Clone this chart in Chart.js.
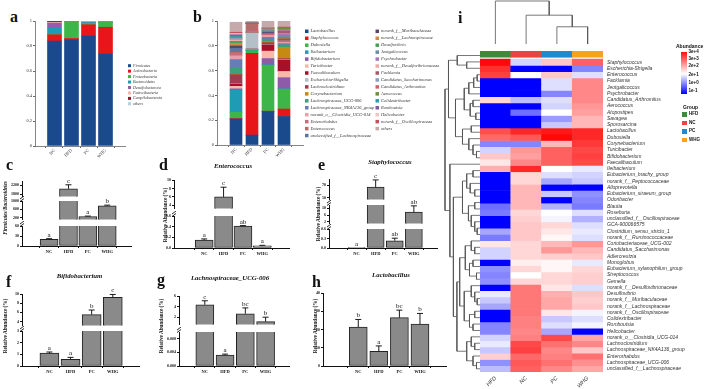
<!DOCTYPE html>
<html>
<head>
<meta charset="utf-8">
<script src="https://cdn.jsdelivr.net/npm/chart.js@4.4.0/dist/chart.umd.min.js"></script>
<style>
  html, body { margin: 0; padding: 0; background: #fff; }
  body { width: 709px; height: 389px; position: relative; overflow: hidden; }
  canvas { position: absolute; }
  .t { position: absolute; white-space: nowrap; line-height: 1; color: #111; }
</style>
</head>
<body>
<script>
const SERIF = 'Liberation Serif';
const SANS = 'Liberation Sans';

// ---------- data ----------
const groups = ['NC', 'HFD', 'PC', 'WHG'];

// a: phylum level
const phylumNames = ['Firmicutes', 'Actinobacteria', 'Proteobacteria', 'Bacteroidetes', 'Desulfobacterota', 'Patescibacteria', 'Campilobacterota', 'others'];
const phylumColors = ['#1b4a8c', '#e8161b', '#3db548', '#1b9db5', '#9a5ab0', '#f7b6ad', '#a3122b', '#b8cde0'];
const phylumNC  = [0.84, 0.05, 0.003, 0.05, 0.04, 0.006, 0.008, 0.003];
const phylumHFD = [0.85, 0.01, 0.138, 0.0, 0.0, 0.0, 0.0, 0.002];
const phylumPC  = [0.88, 0.09, 0.012, 0.005, 0.003, 0.006, 0.002, 0.002];
const phylumWHG = [0.74, 0.21, 0.04, 0.002, 0.002, 0.004, 0.0, 0.002];

// b: genus level
const genusNames = ['Lactobacillus', 'Staphylococcus', 'Dubosiella', 'Ileibacterium', 'Bifidobacterium', 'Turicibacter',
  'Faecalibaculum', 'Escherichia-Shigella', 'Lachnoclostridium', 'Corynebacterium', 'Lachnospiraceae_UCG-006',
  'Lachnospiraceae_NK4A136_group', 'norank_o__Clostridia_UCG-014', 'Enterorhabdus', 'Enterococcus',
  'unclassified_f__Lachnospiraceae', 'norank_f__Muribaculaceae', 'norank_f__Lachnospiraceae', 'Desulfovibrio',
  'Jeotgalicoccus', 'Psychrobacter', 'norank_f__Desulfovibrionaceae', 'Facklamia', 'Candidatus_Saccharimonas',
  'Candidatus_Arthromitus', 'Aerococcus', 'Colidextribacter', 'Romboutsia', 'Helicobacter',
  'norank_f__Oscillospiraceae', 'others'];
const genusColors = ['#1b4a8c', '#e8161b', '#3db548', '#1f9bb5', '#8e5ba8', '#f8b9a9', '#a8102a', '#b3c0c7',
  '#a23a52', '#c48a12', '#3f9f78', '#6a7cb8', '#e8a0a8', '#c96b7b', '#b86b6b', '#5a77a6',
  '#55486b', '#d08b42', '#4aa05a', '#6b8ea5', '#a779b8', '#eeaaa5', '#a85a6b', '#8e9cc0',
  '#d35f6d', '#6d8f3a', '#2aa0ad', '#7d5b9e', '#f2c3c3', '#c8505c', '#c4aaaa'];
const genusNC  = [0.21, 0.003, 0.05, 0.18, 0.01, 0.02, 0.02, 0.004, 0.07, 0.002, 0.05, 0.07, 0.03, 0.02, 0.01, 0.03,
  0.02, 0.02, 0.015, 0, 0, 0.015, 0, 0.01, 0.01, 0, 0.01, 0.01, 0.01, 0.01, 0.081];
const genusHFD = [0.08, 0.66, 0.02, 0.005, 0.002, 0.003, 0.004, 0.13, 0.003, 0.002, 0.002, 0.002, 0.002, 0.002, 0.06, 0.002,
  0.001, 0.001, 0.001, 0, 0, 0, 0, 0, 0.003, 0, 0, 0, 0, 0, 0.015];
const genusPC  = [0.27, 0.003, 0.37, 0.004, 0.05, 0.06, 0.05, 0.003, 0.015, 0.008, 0.02, 0.015, 0.015, 0.008, 0.004, 0.008,
  0.008, 0.004, 0.004, 0.003, 0.002, 0.003, 0.003, 0.004, 0.003, 0.002, 0.002, 0.003, 0.002, 0.002, 0.052];
const genusWHG = [0.23, 0.06, 0.16, 0.003, 0.09, 0.05, 0.09, 0.004, 0.01, 0.09, 0.02, 0.01, 0.01, 0.01, 0.005, 0.008,
  0.005, 0.005, 0.004, 0.02, 0.01, 0.003, 0.02, 0.004, 0.01, 0.01, 0.003, 0.004, 0, 0.003, 0.049];

// c - h: bars with error (NC, HFD, PC, WHG)
const fbValues = [20, 2050, 250, 770];
const fbErrors = [2, 180, 20, 30];
const fbLetters = ['a', 'c', 'a', 'b'];
const enteroValues = [0.15, 6.0, 0.41, 0.04];
const enteroErrors = [0.02, 2.3, 0.01, 0.01];
const enteroLetters = ['a', 'c', 'ab', 'a'];
const staphValues = [0.002, 67, 0.23, 7.8];
const staphErrors = [0, 11.5, 0.08, 3.7];
const staphLetters = ['a', 'c', 'ab', 'ab'];
const bifidoValues = [1.1, 0.57, 5.5, 9.3];
const bifidoErrors = [0.1, 0.17, 1.0, 0.6];
const bifidoLetters = ['a', 'a', 'b', 'c'];
const ucgValues = [4.35, 0.0032, 2.65, 1.15];
const ucgErrors = [0.75, 0.0003, 1.1, 0.85];
const ucgLetters = ['c', 'a', 'bc', 'b'];
const lactoValues = [21.3, 8.0, 26.5, 23.0];
const lactoErrors = [4.2, 3.0, 4.1, 5.8];
const lactoLetters = ['b', 'a', 'bc', 'b'];

// i: heatmap, log10 abundance per genus (HFD, NC, PC, WHG)
const heatCols = ['HFD', 'NC', 'PC', 'WHG'];
const groupColors = ['#3a8b3a', '#e8453c', '#1f8ad0', '#f6a21c'];
const heatRows = ['Staphylococcus', 'Escherichia-Shigella', 'Enterococcus', 'Facklamia', 'Jeotgalicoccus',
  'Psychrobacter', 'Candidatus_Arthromitus', 'Aerococcus', 'Atopostipes', 'Savagea', 'Sporosarcina',
  'Lactobacillus', 'Dubosiella', 'Corynebacterium', 'Turicibacter', 'Bifidobacterium', 'Faecalibaculum',
  'Ileibacterium', 'Eubacterium_brachy_group', 'norank_f__Peptococcaceae', 'Alloprevotella',
  'Eubacterium_siraeum_group', 'Odoribacter', 'Blautia', 'Roseburia', 'unclassified_f__Oscillospiraceae',
  'GCA-900066575', 'Clostridium_sensu_stricto_1', 'norank_f__Ruminococcaceae', 'Coriobacteriaceae_UCG-002',
  'Candidatus_Saccharimonas', 'Adlercreutzia', 'Monoglobus', 'Eubacterium_xylanophilum_group',
  'Streptococcus', 'Gemella', 'norank_f__Desulfovibrionaceae', 'Desulfovibrio', 'norank_f__Muribaculaceae',
  'norank_f__Lachnospiraceae', 'norank_f__Oscillospiraceae', 'Colidextribacter', 'Romboutsia',
  'Helicobacter', 'norank_o__Clostridia_UCG-014', 'Lachnoclostridium', 'Lachnospiraceae_NK4A136_group',
  'Enterorhabdus', 'Lachnospiraceae_UCG-006', 'unclassified_f__Lachnospiraceae'];
const heatHFD = [4.4, 3.9, 3.7, -1, -1, -1, 1.8, -1, -1, -1, -1, 3.5, 3.2, 0.2, 0.9, 2.0, 1.6, 2.3, -1, -1,
  -1, -1, -1, 0.0, 0.1, -1, -1, 0.5, 0.1, 1.6, 0.9, 0.9, -1, 0.3, 0.2, 0.3, -1, 1.1, 0.8, 0.5,
  -1, -1, 0.2, 0.2, 0.9, 1.1, 0.8, 1.9, 0.3, 0.7];
const heatNC = [0.9, -1, 1.3, -1, -1, -1, 0.7, -1, 0.0, -1, -1, 4.0, 3.4, 0.2, 2.6, 2.5, 2.8, 4.0, 1.8, 1.8,
  2.2, 2.2, 2.2, 2.2, 1.8, 1.9, 2.0, 2.0, 2.0, 1.8, 1.8, 1.8, 1.5, 1.8, 1.3, 1.8, 3.0, 3.0, 3.0, 3.0,
  3.0, 2.9, 2.9, 2.8, 2.9, 3.6, 3.7, 3.2, 3.4, 3.3];
const heatPC = [2.0, -1, 2.0, 1.0, 1.0, 0.2, 1.0, 0.9, 1.3, 0.4, 0.8, 4.2, 4.4, 2.2, 3.3, 3.3, 3.3, 1.3, 1.0, 0.5,
  -1, 0.8, -1, 0.6, 1.3, 1.2, 1.8, 1.6, 1.4, 2.2, 2.6, 1.9, 1.4, 1.4, 1.8, 1.8, 1.6, 2.3, 2.4, 2.4,
  1.6, 0.8, 1.0, 0.5, 3.6, 3.1, 2.8, 2.9, 3.1, 2.8];
const heatWHG = [3.3, 0.2, 1.0, 2.8, 2.8, 2.8, 2.8, 2.6, 2.5, 2.2, 2.2, 4.0, 4.0, 3.8, 3.6, 3.7, 3.6, 1.1, 0.9, 0.8,
  -1, 0.3, 0.2, 0.1, 1.0, 0.6, 1.0, 1.1, 1.0, 2.6, 2.2, 2.0, 1.1, 1.8, 1.9, 1.9, 1.0, 2.0, 1.9, 2.0,
  1.2, 1.0, 1.2, -1, 2.4, 2.8, 2.0, 3.1, 2.7, 2.4];

// clustering trees: [left, right, height], leaves are row / column indexes
const rowTree = [
  [[0, [1, 2, 0.38], 0.65],
   [[[[[3, 4, 0.08], 5, 0.18], 6, 0.32], [[7, 8, 0.2], [9, 10, 0.12], 0.28], 0.45],
    [[11, 12, 0.25], [13, [14, [15, 16, 0.1], 0.2], 0.32], 0.5], 0.7], 0.9],
  [17,
   [[[[18, 19, 0.2], [20, [21, 22, 0.15], 0.28], 0.38], [[23, 24, 0.15], [25, [26, [27, 28, 0.08], 0.15], 0.25], 0.33], 0.5],
    [[[[29, [30, 31, 0.15], 0.25], [[32, 33, 0.2], [34, 35, 0.1], 0.3], 0.42],
      [[36, [37, [38, 39, 0.08], 0.15], 0.25], [[40, 41, 0.15], [42, 43, 0.2], 0.3], 0.45], 0.58],
     [[44, [45, 46, 0.15], 0.25], [47, [48, 49, 0.1], 0.2], 0.38], 0.66], 0.76], 0.86],
  1.0];
const colTree = [0, [1, [2, 3, 0.4], 0.67], 1.0];

// ---------- helpers ----------
function addCanvas(left, top, w, h) {
  const c = document.createElement('canvas');
  c.width = w; c.height = h;
  c.style.left = left + 'px'; c.style.top = top + 'px';
  c.style.width = w + 'px'; c.style.height = h + 'px';
  document.body.appendChild(c);
  return c;
}

function txt(s, x, y, size, o = {}) {
  const d = document.createElement('div');
  d.className = 't';
  d.textContent = s;
  d.style.fontSize = size + 'px';
  d.style.fontFamily = o.sans ? SANS : SERIF;
  if (o.bold) d.style.fontWeight = 'bold';
  if (o.italic) d.style.fontStyle = 'italic';
  d.style.left = x + 'px';
  d.style.top = (y - 0.8375 * size) + 'px';
  if (o.center) d.style.transform = 'translateX(-50%)';
  document.body.appendChild(d);
  return d;
}

function vtxt(s, cx, cy, size, o = {}) {
  const d = txt(s, cx, cy, size, o);
  d.style.top = cy + 'px';
  d.style.transform = 'translate(-50%, -50%) rotate(-90deg)';
  return d;
}

const base = {
  responsive: false, animation: false, events: [], devicePixelRatio: 1,
};

// error bars + significance letters, drawn through the y scale
const errBars = {
  id: 'errBars',
  afterDatasetsDraw(chart, args, o) {
    if (!o.values) return;
    const { ctx } = chart;
    const y = chart.scales.y;
    const bars = chart.getDatasetMeta(0).data;
    ctx.save();
    ctx.strokeStyle = '#1a1a1a';
    ctx.lineWidth = 1;
    bars.forEach((bar, i) => {
      const lo = o.values[i], hi = lo + o.errors[i];
      if (o.errors[i] <= 0 || hi < y.min || lo > y.max) return;
      const p0 = y.getPixelForValue(Math.max(lo, y.min));
      const p1 = y.getPixelForValue(Math.min(hi, y.max));
      ctx.beginPath();
      ctx.moveTo(bar.x, p0); ctx.lineTo(bar.x, p1);
      if (hi <= y.max) { ctx.moveTo(bar.x - 3, p1); ctx.lineTo(bar.x + 3, p1); }
      ctx.stroke();
    });
    ctx.fillStyle = '#111';
    ctx.font = `7px "${SERIF}"`;
    ctx.textAlign = 'center';
    ctx.textBaseline = 'alphabetic';
    bars.forEach((bar, i) => {
      const hi = o.values[i] + o.errors[i];
      if (hi < y.min || hi > y.max) return;
      ctx.fillText(o.letters[i], bar.x, y.getPixelForValue(hi) - 2);
    });
    ctx.restore();
  }
};

// "//" marks on the y axis at a break
const breakMark = {
  id: 'breakMark',
  afterDraw(chart, args, o) {
    if (!o.on) return;
    const { ctx, chartArea: a } = chart;
    ctx.save();
    ctx.strokeStyle = '#111';
    ctx.lineWidth = 0.9;
    [0, 2.5].forEach(d => {
      ctx.beginPath();
      ctx.moveTo(a.left - 2, a.top - d + 0.5);
      ctx.lineTo(a.left + 2, a.top - d - 2.5);
      ctx.stroke();
    });
    ctx.restore();
  }
};

// legend drawn beside the stacked bars
const sideLegend = {
  id: 'sideLegend',
  afterDraw(chart, args, o) {
    if (!o.x) return;
    const { ctx } = chart;
    const ox = parseFloat(chart.canvas.style.left), oy = parseFloat(chart.canvas.style.top);
    ctx.save();
    ctx.font = `italic ${o.size}px "${SERIF}"`;
    ctx.textBaseline = 'middle';
    chart.data.datasets.forEach((ds, i) => {
      const col = Math.floor(i / o.perCol), row = i % o.perCol;
      const bx = o.x + col * o.colW - ox, cy = o.y + row * o.rowH - oy;
      ctx.fillStyle = ds.backgroundColor;
      ctx.fillRect(bx, cy - o.box / 2, o.box, o.box);
      ctx.fillStyle = '#333';
      ctx.fillText(ds.label, bx + o.box + 2, cy);
    });
    ctx.restore();
  }
};

// ---------- a, b: stacked composition ----------
function stackPanel(p) {
  const yw = 12, xh = 14, padTop = 4;
  const left = p.axisX - yw, top = p.top - padTop;
  const w = p.canvasRight - left, h = padTop + (p.bottom - p.top) + xh;
  const perGroup = [p.nc, p.hfd, p.pc, p.whg];
  new Chart(addCanvas(left, top, w, h), {
    type: 'bar',
    data: {
      datasets: p.names.map((name, k) => ({
        label: name,
        data: perGroup.map((g, i) => ({ x: i, y: g[k] })),
        backgroundColor: p.colors[k],
        borderWidth: 0,
        barThickness: p.bar
      }))
    },
    options: {
      ...base,
      layout: { padding: { top: padTop, right: p.canvasRight - p.right, left: 0, bottom: 0 }, autoPadding: false },
      plugins: { legend: { display: false }, tooltip: { enabled: false }, sideLegend: p.legend },
      scales: {
        x: {
          type: 'linear', stacked: true, min: p.xmin, max: p.xmax,
          afterBuildTicks: a => { a.ticks = groups.map((g, i) => ({ value: i })); },
          afterFit: a => { a.height = xh; },
          ticks: { callback: (v, i) => groups[i], font: { family: SERIF, size: 4.5 }, color: '#333',
                   minRotation: 45, maxRotation: 45, padding: 0 },
          grid: { drawOnChartArea: false, tickLength: 2, color: '#666' },
          border: { color: '#666', width: 0.8 }
        },
        y: {
          stacked: true, min: 0, max: 1,
          afterBuildTicks: a => { a.ticks = [0, 0.2, 0.4, 0.6, 0.8, 1].map(v => ({ value: v })); },
          afterFit: a => { a.width = yw; },
          ticks: { callback: v => String(+v.toFixed(1)), font: { family: SERIF, size: 4.5 }, color: '#333', padding: 1 },
          grid: { drawOnChartArea: false, tickLength: 2, color: '#666' },
          border: { color: '#666', width: 0.8 }
        }
      }
    },
    plugins: [sideLegend]
  });
}

stackPanel({
  names: phylumNames, colors: phylumColors, nc: phylumNC, hfd: phylumHFD, pc: phylumPC, whg: phylumWHG,
  axisX: 35, right: 125, canvasRight: 165, top: 21, bottom: 146, xmin: -0.485, xmax: 3.485, bar: 14,
  legend: { x: 128, y: 65.7, perCol: 8, colW: 0, rowH: 5.45, box: 3, size: 4 }
});
stackPanel({
  names: genusNames, colors: genusColors, nc: genusNC, hfd: genusHFD, pc: genusPC, whg: genusWHG,
  axisX: 217, right: 303, canvasRight: 445, top: 21, bottom: 145, xmin: -0.516, xmax: 3.516, bar: 12,
  legend: { x: 305, y: 31.3, perCol: 16, colW: 70.5, rowH: 6.95, box: 3.5, size: 4.5 }
});

// ---------- c - h: bars with broken axes ----------
const YW = 16;
function barPanel(p) {
  p.segs.forEach((s, k) => {
    const last = k === p.segs.length - 1;
    const padTop = k === 0 ? 16 : 5;
    const padBot = last ? 0 : 2;
    const xh = last ? 9 : 0;
    const left = p.axisX - YW, top = s.top - padTop;
    const w = YW + p.right - p.axisX;
    const h = padTop + (s.bottom - s.top) + padBot + xh;
    new Chart(addCanvas(left, top, w, h), {
      type: 'bar',
      data: {
        datasets: [{
          data: p.values.map((v, i) => ({ x: i, y: v })),
          backgroundColor: '#8a8a8a', borderColor: '#222', borderWidth: 1, borderSkipped: false,
          barThickness: p.bar
        }]
      },
      options: {
        ...base,
        layout: { padding: { top: padTop, bottom: padBot, left: 0, right: 0 }, autoPadding: false },
        plugins: {
          legend: { display: false }, tooltip: { enabled: false },
          errBars: { values: p.values, errors: p.errors, letters: p.letters },
          breakMark: { on: k > 0 }
        },
        scales: {
          x: {
            type: 'linear', min: p.xmin, max: p.xmax, display: last,
            afterBuildTicks: a => { a.ticks = groups.map((g, i) => ({ value: i })); },
            afterFit: a => { a.height = xh; },
            ticks: { callback: (v, i) => groups[i], font: { family: SERIF, size: 4.5, weight: 'bold' },
                     color: '#111', padding: 1, maxRotation: 0 },
            grid: { drawOnChartArea: false, tickLength: 2, color: '#111' },
            border: { color: '#111', width: 1 }
          },
          y: {
            min: s.min, max: s.max,
            afterBuildTicks: a => { a.ticks = s.ticks.map(v => ({ value: v })); },
            afterFit: a => { a.width = YW; },
            ticks: { callback: v => s.fmt ? v.toFixed(s.fmt) : String(v),
                     font: { family: SERIF, size: 4, weight: 'bold' }, color: '#111', padding: 1 },
            grid: { drawOnChartArea: false, tickLength: 2, color: '#111' },
            border: { color: '#111', width: 1 }
          }
        }
      },
      plugins: [errBars, breakMark]
    });
  });
}

barPanel({ axisX: 22, right: 132, xmin: -0.69, xmax: 3.57, bar: 18,
  values: fbValues, errors: fbErrors, letters: fbLetters,
  segs: [
    { min: 1700, max: 2400, top: 181, bottom: 198, ticks: [1800, 2000, 2200, 2400] },
    { min: 100, max: 1000, top: 201, bottom: 221, ticks: [200, 400, 600, 800, 1000] },
    { min: 0, max: 60, top: 226, bottom: 246, ticks: [0, 10, 20, 30, 40, 50, 60] }] });
barPanel({ axisX: 174, right: 290, xmin: -0.81, xmax: 3.68, bar: 18,
  values: enteroValues, errors: enteroErrors, letters: enteroLetters,
  segs: [
    { min: 3.25, max: 10, top: 180, bottom: 210, ticks: [4, 6, 8, 10] },
    { min: 0, max: 0.6, top: 216, bottom: 248, ticks: [0, 0.1, 0.2, 0.3, 0.4, 0.5, 0.6], fmt: 1 }] });
barPanel({ axisX: 329, right: 438, xmin: -0.73, xmax: 3.55, bar: 17,
  values: staphValues, errors: staphErrors, letters: staphLetters,
  segs: [
    { min: 47, max: 80, top: 179, bottom: 201, ticks: [50, 60, 70, 80] },
    { min: 1, max: 12, top: 205, bottom: 225, ticks: [2, 4, 6, 8, 10, 12] },
    { min: 0, max: 0.6, top: 229, bottom: 248, ticks: [0, 0.1, 0.2, 0.3, 0.4, 0.5, 0.6], fmt: 1 }] });
barPanel({ axisX: 22, right: 140, xmin: -0.6, xmax: 3.59, bar: 19,
  values: bifidoValues, errors: bifidoErrors, letters: bifidoLetters,
  segs: [
    { min: 3.1, max: 10, top: 294, bottom: 327, ticks: [4, 6, 8, 10] },
    { min: 0, max: 3, top: 331, bottom: 366, ticks: [0, 1, 2, 3] }] });
barPanel({ axisX: 179, right: 290, xmin: -0.59, xmax: 3.52, bar: 18,
  values: ucgValues, errors: ucgErrors, letters: ucgLetters,
  segs: [
    { min: 0.6, max: 6, top: 296, bottom: 326, ticks: [2, 4, 6] },
    { min: 0, max: 0.01, top: 332, bottom: 366, ticks: [0, 0.002, 0.004, 0.006, 0.008, 0.01], fmt: 3 }] });
barPanel({ axisX: 323, right: 447, xmin: -0.96, xmax: 3.56, bar: 18,
  values: lactoValues, errors: lactoErrors, letters: lactoLetters,
  segs: [{ min: 0, max: 40, top: 293, bottom: 366, ticks: [0, 10, 20, 30, 40] }] });

// ---------- i: heatmap ----------
function heatColor(v) {
  const mid = 1.3;
  let r = 255, g = 255, b = 255;
  if (v <= mid) {
    const t = Math.min(1, (mid - v) / 2.3);
    r = g = Math.round(255 * (1 - t));
  } else {
    const t = Math.min(1, (v - mid) / 3.2);
    g = b = Math.round(255 * (1 - t));
  }
  return `rgb(${r},${g},${b})`;
}

new Chart(addCanvas(480, 44, 229, 345), {
  type: 'bar',
  data: {
    labels: heatCols,
    datasets: [
      { data: heatCols.map(() => [-1.3, -0.3]), backgroundColor: groupColors },
      ...heatRows.map((name, r) => ({
        data: heatCols.map(() => [r, r + 1]),
        backgroundColor: [heatHFD[r], heatNC[r], heatPC[r], heatWHG[r]].map(heatColor)
      }))
    ]
  },
  options: {
    ...base,
    layout: { padding: 0, autoPadding: false },
    datasets: { bar: { barPercentage: 1, categoryPercentage: 1, borderWidth: 0, grouped: false } },
    plugins: { legend: { display: false }, tooltip: { enabled: false } },
    scales: {
      x: {
        stacked: true,
        afterFit: a => { a.height = 17; },
        grid: { display: false, drawTicks: false }, border: { display: false },
        ticks: { font: { family: SANS, size: 5.5, style: 'italic' }, color: '#333',
                 minRotation: 45, maxRotation: 45, padding: 3, autoSkip: false }
      },
      y: {
        position: 'right', min: -1.3, max: 50, reverse: true,
        afterBuildTicks: a => { a.ticks = heatRows.map((n, r) => ({ value: r + 0.5 })); },
        afterFit: a => { a.width = 106; },
        grid: { display: false, drawTicks: false }, border: { display: false },
        ticks: { autoSkip: false, callback: (v, i) => heatRows[i],
                 font: { family: SANS, size: 5, style: 'italic' }, color: '#333', padding: 4 }
      }
    }
  }
});

// dendrograms
function dendroSets(tree, rows) {
  const sets = [];
  function walk(n) {
    if (typeof n === 'number') return { p: n + 0.5, h: 0 };
    const a = walk(n[0]), b = walk(n[1]), h = n[2];
    const pts = [[a.h, a.p], [h, a.p], [h, b.p], [b.h, b.p]];
    sets.push({
      data: pts.map(([hh, pp]) => rows ? { x: hh, y: pp } : { x: pp, y: hh }),
      showLine: true, borderColor: '#555', borderWidth: 0.8, pointRadius: 0, clip: false
    });
    return { p: (a.p + b.p) / 2, h };
  }
  walk(tree);
  return sets;
}

const dendroOpts = (x, y) => ({
  ...base,
  layout: { padding: 0, autoPadding: false },
  plugins: { legend: { display: false }, tooltip: { enabled: false } },
  scales: { x: { type: 'linear', display: false, ...x }, y: { type: 'linear', display: false, ...y } }
});

new Chart(addCanvas(436, 44, 44, 328), {
  type: 'scatter',
  data: { datasets: dendroSets(rowTree, true) },
  options: dendroOpts({ min: 0, max: 1.257, reverse: true }, { min: -1.3, max: 50, reverse: true })
});
new Chart(addCanvas(480, 0, 123, 44), {
  type: 'scatter',
  data: { datasets: dendroSets(colTree, false) },
  options: dendroOpts({ min: 0, max: 4 }, { min: 0, max: 1.023 })
});

// heatmap legends
const grad = document.createElement('div');
Object.assign(grad.style, { position: 'absolute', left: '681px', top: '52px', width: '6px', height: '42px',
  background: 'linear-gradient(to bottom, #ff1010 0%, #ffffff 52%, #0000ff 100%)' });
document.body.appendChild(grad);
txt('Abundance', 676, 48, 5, { sans: true, bold: true });
[['3e+4', 54], ['3e+3', 60.5], ['2e+2', 68], ['2e+1', 76.5], ['1e+0', 85], ['1e-1', 92.5]]
  .forEach(([s, y]) => txt(s, 688.5, y, 4.5, { sans: true, bold: true }));
txt('Group', 683, 109, 5, { sans: true, bold: true });
heatCols.forEach((g, i) => {
  const y = 116 + i * 8.6;
  const box = document.createElement('div');
  Object.assign(box.style, { position: 'absolute', left: '682px', top: (y - 4) + 'px', width: '5px', height: '4.5px',
    background: groupColors[i] });
  document.body.appendChild(box);
  txt(g, 689, y, 4.5, { sans: true, bold: true });
});

// ---------- panel letters, titles, axis titles ----------
[['a', 10, 22], ['b', 193, 22], ['i', 458, 23], ['c', 6, 170], ['d', 159, 170], ['e', 318, 170],
 ['f', 6, 287], ['g', 157, 285], ['h', 312, 287]]
  .forEach(([s, x, y]) => txt(s, x, y, 16, { bold: true }));

[['Enterococcus', 233, 168.5], ['Staphylococcus', 390, 164.5], ['Bifidobacterium', 79.5, 279],
 ['Lachnospiraceae_UCG-006', 230, 280.5], ['Lactobacillus', 391, 278]]
  .forEach(([s, x, y]) => txt(s, x, y, 6.8, { bold: true, italic: true, center: true }));

vtxt('Firmicutes/Bacteroidetes', 6, 208, 5.2, { bold: true, italic: true });
[[166, 215], [319, 214], [6, 326], [162, 326], [316, 326]]
  .forEach(([x, y]) => vtxt('Relative Abundance (%)', x, y, 5.2, { bold: true }));
</script>
</body>
</html>
